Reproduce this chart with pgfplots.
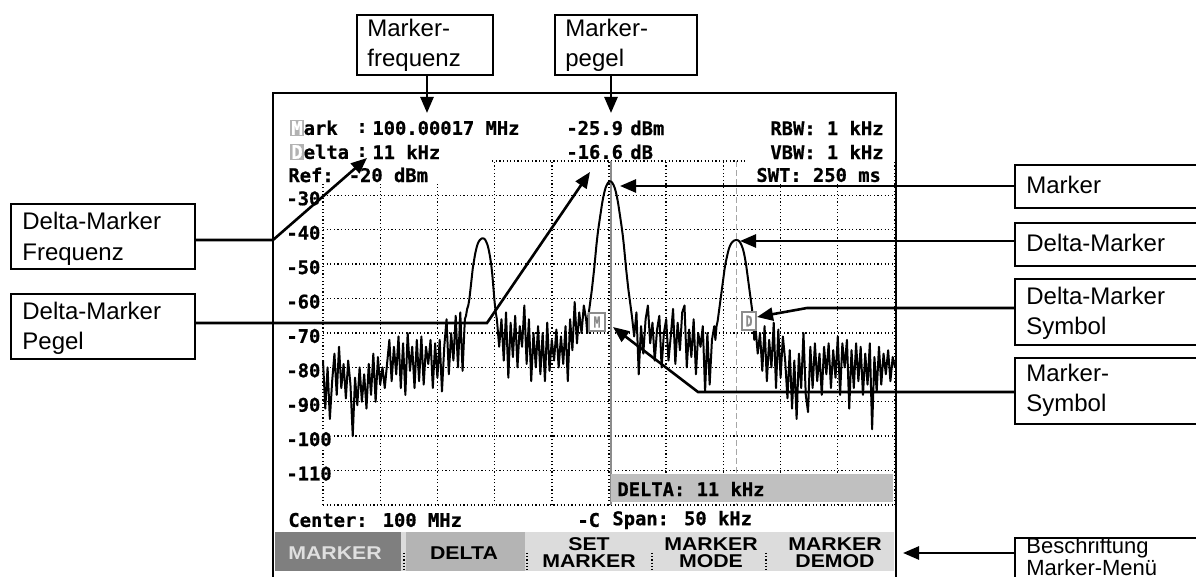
\documentclass[border=0pt]{standalone}
\usepackage{fontspec}
\setmainfont{Liberation Sans}
\newfontfamily\scr[FakeStretch=1.15]{Liberation Sans}
\newfontfamily\mono[FakeBold=0.8]{DejaVu Sans Mono}
\usepackage{graphicx}
\usepackage{pgfplots}
\pgfplotsset{compat=1.18}
\usetikzlibrary{arrows.meta}

\definecolor{mkgray}{HTML}{8C8C8C}
\definecolor{barlight}{HTML}{DCDCDC}
\definecolor{bardark}{HTML}{7F7F7F}
\definecolor{barmid}{HTML}{B4B4B4}
\definecolor{deltabar}{HTML}{C0C0C0}

\newcommand\scrfont{\scr\bfseries\fontsize{9.25}{10}\selectfont}
\newcommand\lcd{\mono\bfseries\fontsize{9.4}{10}\selectfont}
\newcommand\boxfont{\fontsize{12}{14}\selectfont}
\newcommand\badge[1]{{\setlength{\fboxsep}{0.5pt}\colorbox{gray!60}{\textcolor{white}{#1}}}}

% spectrum trace, offset from 100 MHz in kHz, level in dBm
\pgfplotstableread{
x y
-25.0 -78
-24.8 -92
-24.6 -80
-24.4 -95
-24.2 -84
-24.0 -76
-23.8 -88
-23.6 -74
-23.4 -86
-23.2 -79
-23.0 -89
-22.8 -78
-22.6 -85
-22.4 -100
-22.2 -83
-22.0 -91
-21.8 -80
-21.6 -90
-21.4 -82
-21.2 -92
-21.0 -79
-20.8 -88
-20.6 -76
-20.4 -90
-20.2 -77
-20.0 -85
-19.8 -80
-19.6 -86
-19.4 -79
-19.2 -72
-19.0 -84
-18.8 -74
-18.6 -82
-18.4 -71
-18.2 -86
-18.0 -73
-17.8 -88
-17.6 -70
-17.4 -81
-17.2 -74
-17.0 -86
-16.8 -72
-16.6 -84
-16.4 -71
-16.2 -85
-16.0 -74
-15.8 -79
-15.6 -72
-15.4 -86
-15.2 -73
-15.0 -83
-14.8 -72
-14.6 -87
-14.4 -74
-14.2 -66
-14.0 -82
-13.8 -70
-13.6 -78
-13.4 -65
-13.2 -80
-13.0 -64
-12.8 -81
-12.6 -66
-12.5 -65
-12.4 -63
-12.3 -62
-12.2 -60
-12.1 -57
-12.0 -54
-11.9 -51
-11.8 -49
-11.7 -47
-11.6 -45.5
-11.5 -44.3
-11.4 -43.5
-11.3 -43
-11.2 -42.7
-11.1 -42.5
-11.0 -42.5
-10.9 -42.6
-10.8 -43
-10.7 -43.7
-10.6 -44.6
-10.5 -46
-10.4 -47.8
-10.3 -50
-10.2 -53
-10.1 -57
-10.0 -61
-9.9 -64
-9.8 -66
-9.6 -74
-9.4 -66
-9.2 -78
-9.0 -64
-8.8 -83
-8.6 -67
-8.4 -77
-8.2 -65
-8.0 -80
-7.8 -68
-7.6 -74
-7.4 -62
-7.2 -79
-7.0 -66
-6.8 -84
-6.6 -70
-6.4 -80
-6.2 -68
-6.0 -82
-5.8 -70
-5.6 -84
-5.4 -67
-5.2 -81
-5.0 -72
-4.8 -78
-4.6 -69
-4.4 -80
-4.2 -71
-4.0 -79
-3.8 -68
-3.6 -84
-3.4 -66
-3.2 -75
-3.0 -61
-2.8 -73
-2.6 -64
-2.4 -70
-2.2 -62
-2.0 -66
-1.9 -70
-1.8 -65
-1.7 -62.5
-1.6 -60
-1.5 -57.5
-1.4 -54.5
-1.3 -51.5
-1.2 -48
-1.1 -44.5
-1.0 -41.5
-0.9 -39
-0.8 -36.7
-0.7 -34.5
-0.6 -32.3
-0.5 -30.5
-0.4 -29
-0.3 -27.8
-0.2 -27
-0.1 -26.4
0.0 -26
0.1 -25.9
0.2 -26
0.3 -26.4
0.4 -27
0.5 -27.8
0.6 -29
0.7 -30.5
0.8 -32.3
0.9 -34.5
1.0 -36.7
1.1 -39
1.2 -41.5
1.3 -44.5
1.4 -48
1.5 -51.5
1.6 -54.5
1.7 -57.5
1.8 -60
1.9 -62.5
2.0 -65
2.2 -71
2.4 -64
2.6 -82
2.8 -68
3.0 -76
3.2 -66
3.4 -62
3.6 -73
3.8 -67
4.0 -78
4.2 -69
4.4 -65
4.6 -80
4.8 -70
5.0 -66
5.2 -78
5.4 -71
5.6 -63
5.8 -79
6.0 -67
6.2 -75
6.4 -64
6.6 -62
6.8 -80
7.0 -69
7.2 -77
7.4 -66
7.6 -82
7.8 -70
8.0 -74
8.2 -68
8.4 -87
8.6 -70
8.8 -85
9.0 -72
9.2 -68
9.3 -72
9.4 -68
9.5 -66.5
9.6 -64
9.7 -61.5
9.8 -59
9.9 -56.5
10.0 -54
10.1 -51.5
10.2 -49.5
10.3 -48
10.4 -46.5
10.5 -45.3
10.6 -44.5
10.7 -43.9
10.8 -43.5
10.9 -43.2
11.0 -43.05
11.1 -43
11.2 -43
11.3 -43.1
11.4 -43.4
11.5 -43.9
11.6 -44.6
11.7 -45.5
11.8 -46.8
11.9 -48.5
12.0 -50.5
12.1 -53
12.2 -55.5
12.3 -58
12.4 -60.5
12.5 -63
12.6 -66
12.7 -72
12.8 -68
13.0 -76
13.2 -70
13.4 -81
13.6 -68
13.8 -84
14.0 -72
14.2 -80
14.4 -67
14.6 -86
14.8 -69
15.0 -83
15.2 -71
15.4 -78
15.6 -89
15.8 -75
16.0 -92
16.2 -78
16.4 -95
16.6 -76
16.8 -86
17.0 -70
17.2 -88
17.4 -93
17.6 -74
17.8 -86
18.0 -73
18.2 -84
18.4 -76
18.6 -88
18.8 -74
19.0 -82
19.2 -73
19.4 -86
19.6 -75
19.8 -83
20.0 -71
20.2 -88
20.4 -73
20.6 -80
20.8 -72
21.0 -92
21.2 -75
21.4 -86
21.6 -73
21.8 -84
22.0 -74
22.2 -88
22.4 -76
22.6 -85
22.8 -73
23.0 -98
23.2 -77
23.4 -87
23.6 -74
23.8 -85
24.0 -76
24.2 -82
24.4 -75
24.6 -84
24.8 -77
25.0 -80
}\trace

\begin{document}
\begin{tikzpicture}
\useasboundingbox (0,0) rectangle (598pt,-288.5pt);

\begin{axis}[
    at={(161.5pt,-252.5pt)}, anchor=south west,
    scale only axis, width=286pt, height=172pt,
    xmin=-25, xmax=25, ymin=-120, ymax=-20,
    xtick={-25,-20,...,25}, ytick={-120,-110,...,-20},
    xticklabels={},
    yticklabels={,-110,-100,-90,-80,-70,-60,-50,-40,-30,},
    yticklabel style={anchor=west, xshift=-19pt, yshift=-1.5pt,
        font=\lcd, fill=white, inner sep=0.5pt},
    major tick length=0pt,
    grid=major,
    grid style={black, line width=0.7pt, dash pattern=on 0.6pt off 1.2pt},
    axis line style={draw=none},
    clip=false,
]
\addplot[mkgray, line width=1pt] coordinates {(0.15,-20) (0.15,-120)};
\addplot[gray!70, line width=0.7pt, dash pattern=on 3pt off 1.5pt]
    coordinates {(11.17,-20) (11.17,-120)};
\addplot[black, line width=1pt, line join=round] table {\trace};
\end{axis}

\begin{scope}[x=0.5pt, y=-0.5pt]
% header area masks
\fill[white] (276,158) rectangle (490,184);
\fill[white] (748,158) rectangle (894,184);

% screen frame
\draw[line width=1pt] (273,600) -- (273,93) -- (896,93) -- (896,600);

% header texts
\begin{scope}[every node/.style={font=\lcd, inner sep=0, anchor=west}]
\node at (290,128) {\badge{M}ark};
\node at (356,128) {:};
\node at (372,128) {100.00017 MHz};
\node at (566,128) {-25.9};
\node at (630,128) {dBm};
\node at (770,128) {RBW: 1 kHz};
\node at (290,152) {\badge{D}elta};
\node at (356,152) {:};
\node at (372,152) {11 kHz};
\node at (566,152) {-16.6};
\node at (630,152) {dB};
\node at (770,152) {VBW: 1 kHz};
\node at (288,175) {Ref: -20 dBm};
\node at (756,175) {SWT: 250 ms};
\end{scope}

% delta info bar
\fill[deltabar] (611,474) rectangle (893,502);
\node[font=\lcd, inner sep=0, anchor=west] at (617,489) {DELTA: 11 kHz};

% marker symbols on trace
\node[draw=mkgray, fill=white, text=mkgray, line width=0.7pt, inner sep=0,
    minimum width=8pt, minimum height=9pt, font=\lcd] at (597,322) {\scalebox{0.6}[0.8]{M}};
\node[draw=mkgray, fill=white, text=mkgray, line width=0.7pt, inner sep=0,
    minimum width=7pt, minimum height=9pt, font=\lcd] at (749,321) {\scalebox{0.6}[0.8]{D}};

% bottom status line
\begin{scope}[every node/.style={font=\lcd, inner sep=0, anchor=west}]
\node at (288,520) {Center: 100 MHz};
\node at (577,520) {-C};
\node at (612,520) {Span: 50 kHz};
\end{scope}

% softkey menu
\fill[barlight] (275,532) rectangle (894,571);
\fill[bardark] (275,532) rectangle (401,571);
\fill[barmid] (406,532) rectangle (525,571);
\foreach \sx in {404,527,652,766}
    \draw[line width=0.7pt, dash pattern=on 0.6pt off 1pt] (\sx,553) -- (\sx,570);
\begin{scope}[every node/.style={font=\scrfont, inner sep=0, align=center}]
\node[text=gray!25] at (335,553) {MARKER};
\node at (464,553) {DELTA};
\node at (589,544) {SET};
\node at (589,561) {MARKER};
\node at (711,544) {MARKER};
\node at (711,561) {MODE};
\node at (835,544) {MARKER};
\node at (835,561) {DEMOD};
\end{scope}

% callout boxes
\begin{scope}[line width=0.75pt]
\draw (357,15) rectangle (493,75);
\draw (555,15) rectangle (697,75);
\draw (11,204) rectangle (195,269);
\draw (11,294) rectangle (195,359);
\draw (1015,165) rectangle (1205,208);
\draw (1015,223) rectangle (1205,266);
\draw (1015,279) rectangle (1205,345);
\draw (1015,358) rectangle (1205,424);
\draw (1015,538) rectangle (1205,600);
\end{scope}

\begin{scope}[every node/.style={font=\boxfont, inner sep=0, anchor=base west}]
\node at (367,37) {Marker-};
\node at (367,67) {frequenz};
\node at (565,37) {Marker-};
\node at (565,67) {pegel};
\node at (22,230) {Delta-Marker};
\node at (22,261) {Frequenz};
\node at (22,320) {Delta-Marker};
\node at (22,350) {Pegel};
\node at (1026,194) {Marker};
\node at (1026,252) {Delta-Marker};
\node at (1026,305) {Delta-Marker};
\node at (1026,335) {Symbol};
\node at (1026,382) {Marker-};
\node at (1026,412) {Symbol};
\node[font=\fontsize{11}{12}\selectfont] at (1026,553) {Beschriftung};
\node[font=\fontsize{11}{12}\selectfont] at (1026,575) {Marker-Menü};
\end{scope}

% callout arrows
\begin{scope}[line width=1.3pt, -{Triangle[length=8pt,width=6.5pt]}]
\draw (427,75) -- (427,113);
\draw (611,75) -- (611,113);
\draw (195,240) -- (273,240) -- (367,158);
\draw (195,323) -- (487,323) -- (590,172);
\draw (1015,186) -- (620,186);
\draw (1015,241) -- (740,241);
\draw (1015,308) -- (807,308) -- (757,317);
\draw (1015,392) -- (698,392) -- (613,327);
\draw (1015,553) -- (903,553);
\end{scope}
\end{scope}
\end{tikzpicture}
\end{document}
